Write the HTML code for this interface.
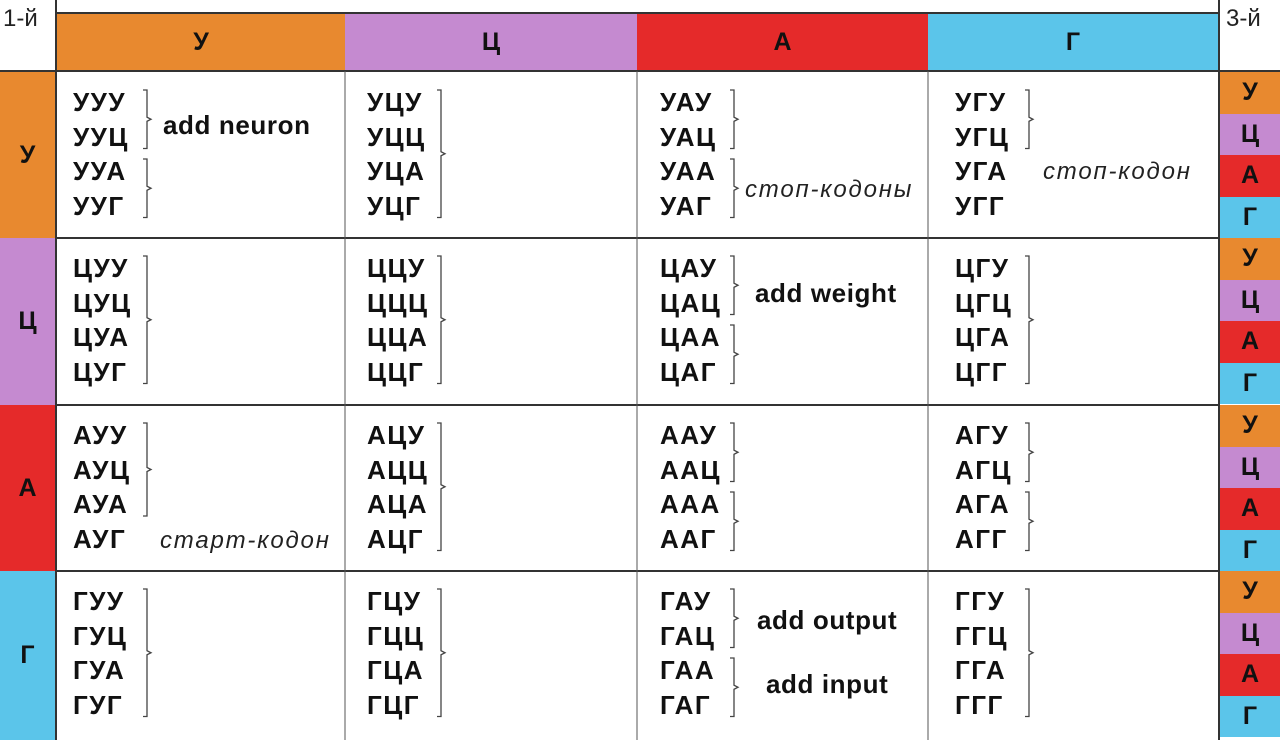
<!DOCTYPE html>
<html><head><meta charset="utf-8"><style>
body{margin:0;width:1280px;height:740px;background:#fff;position:relative;overflow:hidden;font-family:"Liberation Sans","DejaVu Sans",sans-serif}
.a{position:absolute}
.c{position:absolute;font-weight:bold;font-size:26px;letter-spacing:1.5px;color:#111;line-height:28px}
.h{position:absolute;display:flex;align-items:center;justify-content:center;font-weight:bold;font-size:25px;color:#111}
.l{position:absolute;font-weight:bold;font-size:26px;letter-spacing:0.6px;color:#111;line-height:28px}
.i{position:absolute;font-style:italic;font-size:24px;color:#222;line-height:28px;letter-spacing:1.8px}
</style></head><body>
<div class="a" style="left:3px;top:0;font-size:24px;line-height:38px;color:#222">1-й</div>
<div class="a" style="left:1226px;top:0;font-size:24px;line-height:38px;color:#222">3-й</div>
<div class="h" style="left:57px;top:14px;width:288px;height:57px;background:#e8892f">У</div>
<div class="h" style="left:345px;top:14px;width:292px;height:57px;background:#c58ad0">Ц</div>
<div class="h" style="left:637px;top:14px;width:291px;height:57px;background:#e52a2a">А</div>
<div class="h" style="left:928px;top:14px;width:290px;height:57px;background:#5bc5ea">Г</div>
<div class="h" style="left:0;top:72px;width:55px;height:166px;background:#e8892f">У</div>
<div class="h" style="left:0;top:238px;width:55px;height:167px;background:#c58ad0">Ц</div>
<div class="h" style="left:0;top:405px;width:55px;height:166px;background:#e52a2a">А</div>
<div class="h" style="left:0;top:571px;width:55px;height:169px;background:#5bc5ea">Г</div>
<div id="right"></div>
<svg class="a" style="left:0;top:0" width="1280" height="740">
<g stroke="#333" stroke-width="2" fill="none">
<line x1="56" y1="13" x2="1220" y2="13"/>
<line x1="56" y1="0" x2="56" y2="740"/>
<line x1="1219" y1="0" x2="1219" y2="740"/>
<line x1="0" y1="71" x2="1280" y2="71"/>
<line x1="56" y1="238" x2="1219" y2="238"/>
<line x1="56" y1="405" x2="1219" y2="405"/>
<line x1="56" y1="571" x2="1219" y2="571"/>
</g>
<g stroke="#555" stroke-width="1" fill="none">
<line x1="345" y1="71" x2="345" y2="740"/>
<line x1="637" y1="71" x2="637" y2="740"/>
<line x1="928" y1="71" x2="928" y2="740"/>
</g>
<g id="br" stroke="#444" stroke-width="1.3" fill="none"></g>
</svg>
<div id="cod"></div>
<div class="l" style="left:163px;top:111px">add neuron</div>
<div class="i" style="left:745px;top:176px">стоп-кодоны</div>
<div class="i" style="left:1043px;top:158px">стоп-кодон</div>
<div class="l" style="left:755px;top:279px">add weight</div>
<div class="i" style="left:160px;top:527px">старт-кодон</div>
<div class="l" style="left:757px;top:606px">add output</div>
<div class="l" style="left:766px;top:670px">add input</div>
<script>
var N=['У','Ц','А','Г'],cols=['#e8892f','#c58ad0','#e52a2a','#5bc5ea'];
var rt=[72,238,405,571],cx=[73,367,660,955];
var h='';
for(var r=0;r<4;r++){for(var q=0;q<4;q++){var t=rt[r]+q*41.5;h+='<div class="h" style="left:1220px;top:'+t+'px;width:60px;height:41.5px;background:'+cols[q]+'">'+N[q]+'</div>';}}
document.getElementById('right').innerHTML=h;
var c='';
for(var r=0;r<4;r++)for(var k=0;k<4;k++)for(var q=0;q<4;q++){var y=rt[r]+30+q*34.5-14;c+='<div class="c" style="left:'+cx[k]+'px;top:'+y+'px">'+N[r]+N[k]+N[q]+'</div>';}
document.getElementById('cod').innerHTML=c;
var B=[[0,0,0,1],[0,0,2,3],[0,1,0,3],[0,2,0,1],[0,2,2,3],[0,3,0,1],
[1,0,0,3],[1,1,0,3],[1,2,0,1],[1,2,2,3],[1,3,0,3],
[2,0,0,2],[2,1,0,3],[2,2,0,1],[2,2,2,3],[2,3,0,1],[2,3,2,3],
[3,0,0,3],[3,1,0,3],[3,2,0,1],[3,2,2,3],[3,3,0,3]];
var p='';
B.forEach(function(b){var x=cx[b[1]]+74;var y1=rt[b[0]]+30+b[2]*34.5-12,y2=rt[b[0]]+30+b[3]*34.5+12,m=(y1+y2)/2;
p+='<path d="M'+(x-4)+' '+y1+' L'+x+' '+y1+' L'+x+' '+(m-2)+' L'+(x+4)+' '+m+' L'+x+' '+(m+2)+' L'+x+' '+y2+' L'+(x-4)+' '+y2+'"/>';});
document.getElementById('br').innerHTML=p;
</script>
</body></html>
